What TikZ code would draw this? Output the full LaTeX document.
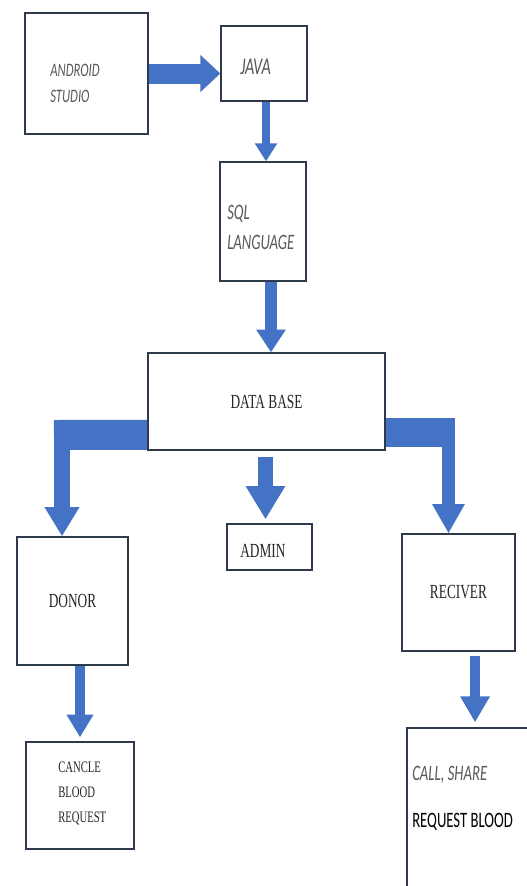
\documentclass[tikz,border=0pt]{standalone}
\usepackage{fontspec}
\setmainfont{Liberation Serif}
\setsansfont{Carlito}
\usetikzlibrary{arrows.meta,positioning,backgrounds}
\definecolor{flowblue}{HTML}{4472C4}
\definecolor{boxline}{HTML}{2F3B4C}
\definecolor{notegray}{HTML}{595959}
\newcommand\tallbox[1]{\scalebox{1}[1.5]{#1}}
\tikzset{
 box/.style={draw=boxline,line width=1pt,fill=white,inner sep=0pt,
  font=\rmfamily\fontsize{10}{12}\selectfont,text=black!85},
 flow/.style n args={3}{draw=flowblue,line width=#1,
  -{Triangle[width=#2,length=#3]}},
 band/.style={draw=flowblue,line cap=butt},
 note/.style={text=notegray,align=left,inner sep=0pt,anchor=west}
}

\begin{document}
\begin{tikzpicture}[x=0.75pt,y=-0.75pt]
\useasboundingbox (0,0) rectangle (527,886);
\clip (0,0) rectangle (527,886);
% boxes
\node[box,minimum width=92.25pt,minimum height=90.75pt] (android) at (86.5,73.5) {};
\node[box,minimum width=64.5pt,minimum height=56.25pt] (java) at (264,63.5) {};
\node[box,minimum width=64.5pt,minimum height=89.25pt] (sql) at (263,221.5) {};
\node[box,minimum width=177.75pt,minimum height=72.75pt] (db) at (266.5,401.5) {\tallbox{DATA BASE}};
\node[box,minimum width=63.75pt,minimum height=34.5pt] (admin) at (269.5,547) {};
\node[box,minimum width=83.25pt,minimum height=96pt] (donor) at (72.5,601) {\tallbox{DONOR}};
\node[box,minimum width=84.75pt,minimum height=87.75pt] (reciver) at (458.5,592.5) {\tallbox{RECIVER}};
\node[box,minimum width=81pt,minimum height=80.25pt] (cancle) at (80,795.5) {};
\node[box,minimum width=99.75pt,minimum height=129pt] (callbox) at (473.5,814) {};
% texts
\node[note,font=\sffamily\itshape\fontsize{9.5}{20}\selectfont] (androidtxt) at (50,83.5) {\tallbox{ANDROID}\\\tallbox{STUDIO}};
\node[note,font=\sffamily\itshape\fontsize{12}{14}\selectfont] (javatxt) at (240,67) {\tallbox{JAVA}};
\node[note,font=\sffamily\itshape\fontsize{11}{23}\selectfont] (sqltxt) at (227,227.5) {\tallbox{SQL}\\\tallbox{LANGUAGE}};
\node[note,text=black!85,font=\rmfamily\fontsize{10}{12}\selectfont] (admintxt) at (240,551) {\tallbox{ADMIN}};
\node[note,text=black!85,font=\rmfamily\fontsize{8}{18.75}\selectfont] (cancletxt) at (58,793) {\tallbox{CANCLE}\\\tallbox{BLOOD}\\\tallbox{REQUEST}};
\node[note,font=\sffamily\itshape\fontsize{11}{13}\selectfont] (calltxt) at (412,775) {\tallbox{CALL, SHARE}};
\node[note,text=black,font=\sffamily\fontsize{11}{13}\selectfont] (requesttxt) at (412,822) {\tallbox{REQUEST BLOOD}};
% arrows
\coordinate (lknee) at (62,435);
\coordinate (rknee) at (448.5,432.5);
\begin{pgfonlayer}{background}
\draw[flow={15pt}{27pt}{15pt}] (android.east) -- (android.east -| java.west);
\draw[flow={6pt}{16pt}{13.5pt}] ([xshift=1.5pt]java.south) -- ([xshift=1.5pt]java.south |- sql.north);
\draw[flow={9pt}{21pt}{17pt}] ([xshift=6pt]sql.south) -- ([xshift=6pt]sql.south |- db.north);
\draw[band,line width=22.5pt] ([yshift=-25pt]db.west) -- ([xshift=-6pt]lknee);
\draw[flow={12pt}{24.75pt}{22pt}] ([yshift=11.25pt]lknee) -- (lknee |- donor.north);
\draw[band,line width=22pt] ([yshift=-23.25pt]db.east) -- ([xshift=4.9pt]rknee);
\draw[flow={10pt}{23pt}{22pt}] ([yshift=11pt]rknee) -- (rknee |- reciver.north);
\draw[flow={11pt}{28pt}{25pt},shorten <=4.5pt,shorten >=3pt]
 ([xshift=-0.75pt]db.south) -- ([xshift=-0.75pt]db.south |- admin.north);
\draw[flow={8pt}{19pt}{17pt},shorten >=3pt] (cancle.north |- donor.south) -- (cancle.north);
\draw[flow={7.5pt}{21pt}{19.5pt},shorten <=3pt,shorten >=3.75pt]
 ([xshift=12.4pt]reciver.south) -- ([xshift=12.4pt]reciver.south |- callbox.north);
\end{pgfonlayer}
\end{tikzpicture}
\end{document}
